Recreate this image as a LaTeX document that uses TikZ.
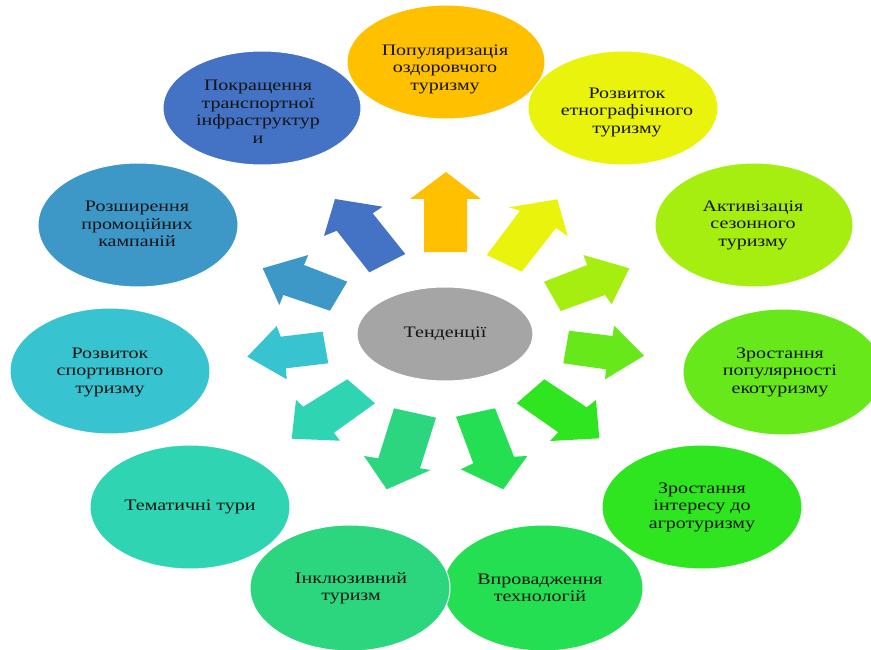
\documentclass[tikz,border=0pt]{standalone}
\usepackage{fontspec}
\setmainfont{Liberation Serif}[FakeStretch=1.25]
\usetikzlibrary{shapes.geometric}
\definecolor{cPop}{HTML}{FFC000}
\definecolor{cEtn}{HTML}{EAF30B}
\definecolor{cAkt}{HTML}{A5EE10}
\definecolor{cEko}{HTML}{66E81A}
\definecolor{cAgr}{HTML}{2EE520}
\definecolor{cVpr}{HTML}{24DF52}
\definecolor{cInk}{HTML}{2BD67F}
\definecolor{cTem}{HTML}{2FD4B3}
\definecolor{cSpo}{HTML}{38C3D0}
\definecolor{cPro}{HTML}{3D98C8}
\definecolor{cTra}{HTML}{4472C4}
\definecolor{cCen}{HTML}{A5A5A5}
\begin{document}
\begin{tikzpicture}[x=1pt,y=-1pt,
  bubble/.style={ellipse, draw=white, line width=1pt, inner sep=0pt},
  txt/.style={align=center, inner sep=0pt, text=black!92, font=\fontsize{16}{17.5}\selectfont}]
\useasboundingbox (0,0) rectangle (871,650);
\fill[white] (0,0) rectangle (871,650);
% block arrows
\fill[cTra] (335,199) -- (382.7,206.7) -- (372.7,213.3) -- (405.3,254) -- (369.3,272.3) -- (336.7,230.7) -- (324,236) -- cycle;
\fill[cPop] (446,172) -- (481,199) -- (467,199) -- (467,252) -- (424,252) -- (424,199) -- (410,199) -- cycle;
\fill[cEtn] (557.3,199.3) -- (567.7,236) -- (556,228) -- (521.7,271.7) -- (486.7,255) -- (520,210.7) -- (509,207.3) -- cycle;
\fill[cAkt] (629.3,268.3) -- (611.7,304.3) -- (605,295) -- (560.7,311) -- (544,281.7) -- (587.3,265) -- (583.3,255) -- cycle;
\fill[cEko] (644,355.7) -- (605,379.3) -- (606,369.3) -- (563.3,363.3) -- (569,330.7) -- (612.7,336) -- (614,325.7) -- cycle;
\fill[cAgr] (599.3,438.3) -- (550,441) -- (558.3,432.3) -- (516.7,403.3) -- (544.3,379.3) -- (586.7,407.3) -- (596,400) -- cycle;
\fill[cVpr] (456,416.7) -- (495,408.3) -- (514,456.7) -- (527.3,456) -- (503.3,489.3) -- (460.7,469.3) -- (473.3,463.3) -- cycle;
\fill[cInk] (394,408.3) -- (436,417.7) -- (420,468.3) -- (430.7,470) -- (386.7,489.3) -- (364,456) -- (378.3,458.3) -- cycle;
\fill[cTem] (347.3,379.3) -- (375,403.3) -- (334,432.7) -- (340,440.7) -- (291.7,438.7) -- (296,400) -- (303.3,406.7) -- cycle;
\fill[cSpo] (322.7,331.7) -- (328.3,363.3) -- (286,368.3) -- (286.7,379.3) -- (247.3,356.7) -- (276.7,326) -- (280.7,336.7) -- cycle;
\fill[cPro] (347.3,281.7) -- (330,310.7) -- (283.3,295) -- (279.3,305) -- (262.7,268.3) -- (308.3,255) -- (304,265) -- cycle;
% ellipses
\node[bubble, fill=cCen, minimum width=176pt, minimum height=94pt] (ec) at (445,334) {};
\node[bubble, fill=cPop, minimum width=198pt, minimum height=114pt] (e1) at (446,62) {};
\node[bubble, fill=cEtn, minimum width=190pt, minimum height=114pt] (e2) at (623,108) {};
\node[bubble, fill=cAkt, minimum width=198pt, minimum height=124pt] (e3) at (754,225) {};
\node[bubble, fill=cEko, minimum width=200pt, minimum height=126pt] (e4) at (783,372) {};
\node[bubble, fill=cAgr, minimum width=200pt, minimum height=124pt] (e5) at (702,507) {};
\node[bubble, fill=cVpr, minimum width=200pt, minimum height=126pt] (e6) at (543,588) {};
\node[bubble, fill=cInk, minimum width=200pt, minimum height=126pt] (e7) at (350,588) {};
\node[bubble, fill=cTem, minimum width=200pt, minimum height=124pt] (e8) at (190,507) {};
\node[bubble, fill=cSpo, minimum width=200pt, minimum height=126pt] (e9) at (110,371) {};
\node[bubble, fill=cPro, minimum width=200pt, minimum height=124pt] (e10) at (138,225) {};
\node[bubble, fill=cTra, minimum width=198pt, minimum height=114pt] (e11) at (262,108) {};
% texts
\node[txt] (tc) at (445,334) {Тенденції};
\node[txt] (t1) at (445,69) {Популяризація\\оздоровчого\\туризму};
\node[txt] (t2) at (627,112) {Розвиток\\етнографічного\\туризму};
\node[txt] (t3) at (753,225) {Активізація\\сезонного\\туризму};
\node[txt] (t4) at (780,372) {Зростання\\популярності\\екотуризму};
\node[txt] (t5) at (702,507) {Зростання\\інтересу до\\агротуризму};
\node[txt] (t6) at (540,588) {Впровадження\\технологій};
\node[txt] (t7) at (351,588) {Інклюзивний\\туризм};
\node[txt] (t8) at (190,507) {Тематичні тури};
\node[txt] (t9) at (110,372) {Розвиток\\спортивного\\туризму};
\node[txt] (t10) at (137,224) {Розширення\\промоційних\\кампаній};
\node[txt] (t11) at (258,112) {Покращення\\транспортної\\інфраструктур\\и};
\end{tikzpicture}
\end{document}
